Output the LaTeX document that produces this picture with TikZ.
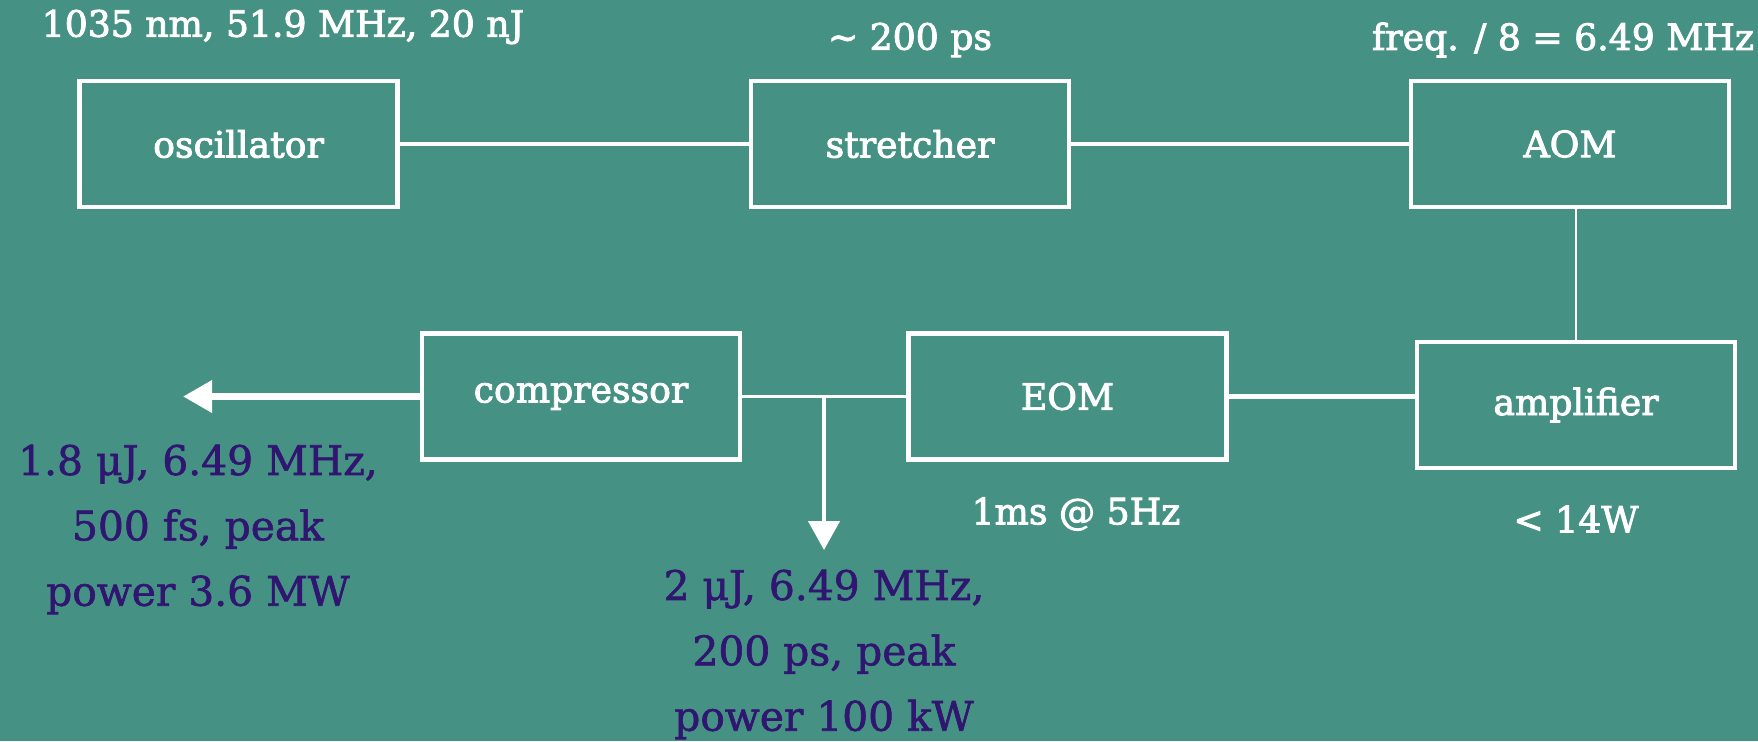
\documentclass[tikz,border=0pt]{standalone}
\usepackage{fontspec}
\usepackage{xcolor}
\usetikzlibrary{arrows.meta}
\setmainfont{DejaVu Serif}
\definecolor{slideTeal}{RGB}{69,145,131}
\definecolor{slidePurple}{RGB}{48,22,112}

\begin{document}
\begin{tikzpicture}[
  font=\fontsize{10.3}{12}\selectfont\addfontfeatures{FakeBold=2.5},
  box/.style={draw=white, line width=1.3pt, text=white,
              minimum width=3.18cm, minimum height=1.26cm, inner sep=0pt},
  note/.style={text=white, inner sep=0pt},
  outnote/.style={text=slidePurple, align=center, inner sep=0pt,
              font=\fontsize{11.6}{18.6}\selectfont\addfontfeatures{FakeBold=1.5}},
  beam/.style={draw=white, line width=1.3pt},
  link/.style={draw=white, line width=0.6pt},
  arrow/.style={-{Triangle[length=2.9mm, width=3.1mm]}, draw=white, fill=white}
]
\fill[slideTeal] (0,0) rectangle (17.58,-7.41);
\useasboundingbox (0,0) rectangle (17.58,-7.41);

\node[box] (osc)  at (2.385,-1.44) {oscillator};
\node[box] (str)  at (9.10,-1.44)  {stretcher};
\node[box] (aom)  at (15.70,-1.44) {AOM};
\node[box] (amp)  at (15.76,-4.05) {amplifier};
\node[box] (eom)  at (10.675,-3.965) {EOM};
\node[box] (comp) at (5.81,-3.965) {compressor};

\node[note] (oscinfo) at (2.83,-0.27) {1035 nm, 51.9 MHz, 20 nJ};
\node[note] (strinfo) at (9.10,-0.40) {\textasciitilde{} 200 ps};
\node[note] (aominfo) at (15.63,-0.40) {freq. / 8 = 6.49 MHz};
\node[note] (ampinfo) at (15.76,-5.19) {< 14W};
\node[note] (eominfo) at (10.76,-5.14) {1ms @ 5Hz};

\coordinate (out)  at (1.83,-3.965);
\coordinate (tap)  at (8.24,-3.965);
\coordinate (pick) at (8.24,-5.50);

\node[outnote, anchor=north] (outinfo) at (1.98,-4.44)
  {1.8 μJ, 6.49 MHz,\\500 fs, peak\\power 3.6 MW};
\node[outnote, anchor=north] (pickinfo) at (8.24,-5.69)
  {2 μJ, 6.49 MHz,\\200 ps, peak\\power 100 kW};

\draw[beam] (osc.east) -- (str.west);
\draw[beam] (str.east) -- (aom.west);
\draw[link] (amp.north |- aom.south) -- (amp.north);
\draw[beam] (eom.east) -- (eom.east -| amp.west);
\draw[link] (eom.west) -- (comp.east);
\draw[arrow, line width=1.9pt] (comp.west) -- (out);
\draw[arrow, line width=1.2pt] (tap) -- (pick);
\end{tikzpicture}
\end{document}
